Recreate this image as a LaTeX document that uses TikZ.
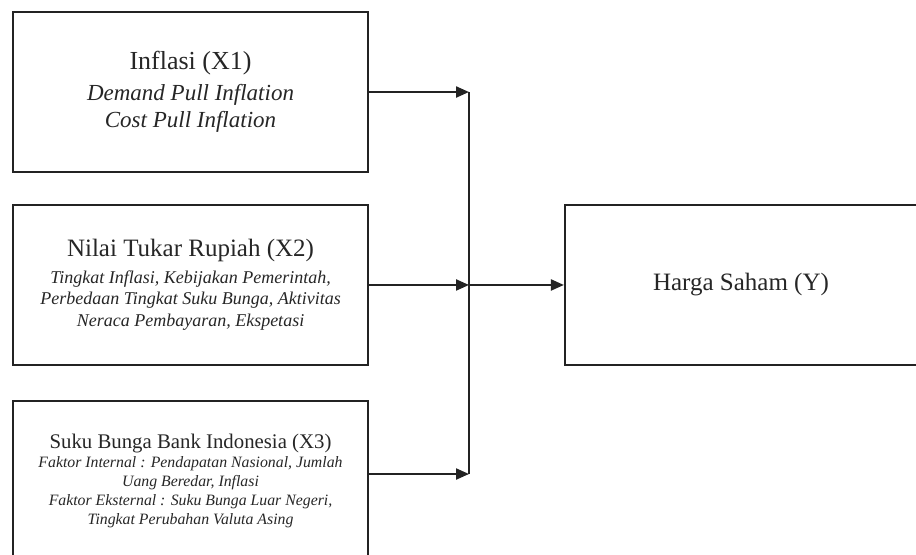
\documentclass[tikz,border=0pt]{standalone}
\usepackage{fontspec}
\setmainfont{Liberation Serif}
\usetikzlibrary{arrows.meta,positioning}
\definecolor{boxline}{RGB}{35,35,35}

\begin{document}
\begin{tikzpicture}
  \tikzstyle{var}=[draw=boxline,line width=1.1pt,minimum width=6.238cm,
    minimum height=2.812cm,align=center,inner sep=0pt,text=black!85]
  \tikzstyle{link}=[boxline,line width=1.1pt]
  \tikzstyle{flow}=[-{Triangle[length=6.5pt,width=5.5pt]},boxline,line width=1.1pt]

  \useasboundingbox (0,0) rectangle (16.097,-9.753);
  \clip (0,0) rectangle (16.097,-9.753);

  % -- Independent variables --
  \node[var,font=\fontsize{11.5}{13.5}\selectfont\itshape] (inflasi) at (3.348,-1.617)
    {{\fontsize{13}{16}\selectfont\upshape Inflasi (X1)}\\[2pt]
     Demand Pull Inflation\\
     Cost Pull Inflation};
  \node[var,font=\fontsize{9}{10.75}\selectfont\itshape] (kurs) at (3.348,-5.008)
    {{\fontsize{12.5}{14}\selectfont\upshape Nilai Tukar Rupiah (X2)}\\[2.5pt]
     Tingkat Inflasi, Kebijakan Pemerintah,\\
     Perbedaan Tingkat Suku Bunga, Aktivitas\\
     Neraca Pembayaran, Ekspetasi};
  \node[var,font=\fontsize{7.9}{9.5}\selectfont\itshape] (sbi) at (3.348,-8.453)
    {{\fontsize{10.4}{12}\selectfont\upshape Suku Bunga Bank Indonesia (X3)}\\
     Faktor Internal : Pendapatan Nasional, Jumlah\\
     Uang Beredar, Inflasi\\
     Faktor Eksternal : Suku Bunga Luar Negeri,\\
     Tingkat Perubahan Valuta Asing};

  % -- Dependent variable --
  \node[var,minimum width=6.186cm,font=\fontsize{12.5}{14}\selectfont] (harga) at (13.022,-5.008) {Harga Saham (Y)};

  % -- Junction points --
  \coordinate (j1) at (inflasi.east -| 8.242,0);
  \coordinate (j2) at (kurs.east -| 8.242,0);
  \coordinate (j3) at (8.242,-8.330);

  % -- Flows --
  \draw[link] (j1) -- (j3);
  \draw[flow] (inflasi.east) -- (j1);
  \draw[flow] (kurs.east) -- (j2);
  \draw[flow] (sbi.east |- j3) -- (j3);
  \draw[flow] (j2) -- (harga.west);
\end{tikzpicture}
\end{document}
